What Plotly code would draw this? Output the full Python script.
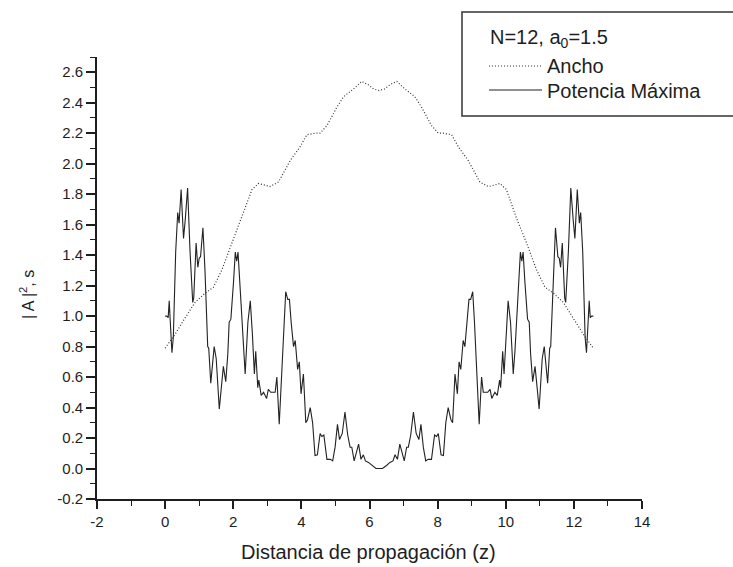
import plotly.graph_objects as go

# Potencia Máxima (solid)
z_pot = [0.00, 0.05, 0.09, 0.12, 0.15, 0.20, 0.24, 0.31, 0.37, 0.41, 0.47, 0.54, 0.59, 0.66, 0.73,
         0.81, 0.84, 0.91, 0.96, 1.00, 1.04, 1.11, 1.17, 1.25, 1.28, 1.34, 1.44, 1.50, 1.59, 1.64,
         1.71, 1.78, 1.84, 1.88, 1.93, 2.01, 2.06, 2.10, 2.14, 2.23, 2.30, 2.35, 2.43, 2.50, 2.56,
         2.62, 2.66, 2.72, 2.75, 2.82, 2.89, 2.98, 3.03, 3.10, 3.23, 3.28, 3.35, 3.43, 3.49, 3.54,
         3.60, 3.65, 3.70, 3.77, 3.82, 3.89, 3.94, 3.99, 4.06, 4.13, 4.18, 4.26, 4.33, 4.40, 4.47,
         4.55, 4.60, 4.66, 4.75, 4.85, 4.92, 4.99, 5.06, 5.12, 5.20, 5.28, 5.36, 5.43, 5.48, 5.55,
         5.68, 5.75, 5.82, 5.88, 5.97, 6.07, 6.19, 6.28,
         6.38, 6.50, 6.60, 6.69, 6.75, 6.82, 6.89, 7.02, 7.09, 7.14, 7.21, 7.29, 7.37, 7.45, 7.51,
         7.58, 7.65, 7.72, 7.82, 7.91, 7.97, 8.02, 8.10, 8.17, 8.24, 8.31, 8.39, 8.44, 8.51, 8.58,
         8.63, 8.68, 8.75, 8.80, 8.87, 8.92, 8.97, 9.03, 9.08, 9.14, 9.22, 9.29, 9.34, 9.47, 9.54,
         9.59, 9.68, 9.75, 9.82, 9.85, 9.91, 9.95, 10.01, 10.07, 10.14, 10.22, 10.27, 10.34, 10.43,
         10.47, 10.51, 10.56, 10.64, 10.69, 10.73, 10.79, 10.86, 10.93, 10.98, 11.07, 11.13, 11.23,
         11.29, 11.32, 11.40, 11.46, 11.53, 11.57, 11.61, 11.66, 11.73, 11.76, 11.84, 11.91, 11.98,
         12.03, 12.10, 12.16, 12.20, 12.26, 12.33, 12.37, 12.42, 12.45, 12.48, 12.52, 12.57]
v_pot = [1.00, 1.00, 0.99, 1.10, 0.97, 0.76, 0.86, 1.42, 1.68, 1.61, 1.83, 1.51, 1.63, 1.84, 1.43,
         1.09, 1.12, 1.48, 1.32, 1.38, 1.39, 1.58, 1.30, 0.80, 0.79, 0.56, 0.80, 0.72, 0.39, 0.51,
         0.67, 0.57, 0.75, 0.96, 0.98, 1.23, 1.42, 1.36, 1.42, 1.08, 0.77, 0.62, 0.96, 1.10, 0.89,
         0.62, 0.77, 0.53, 0.58, 0.48, 0.50, 0.46, 0.52, 0.50, 0.50, 0.60, 0.29, 0.63, 0.97, 1.16,
         1.11, 1.11, 0.96, 0.80, 0.84, 0.65, 0.70, 0.49, 0.62, 0.30, 0.32, 0.40, 0.30, 0.085, 0.09,
         0.23, 0.21, 0.22, 0.06, 0.06, 0.05, 0.14, 0.29, 0.19, 0.23, 0.37, 0.22, 0.14, 0.14, 0.05,
         0.16, 0.06, 0.09, 0.05, 0.04, 0.02, 0.00, 0.00,
         0.00, 0.02, 0.04, 0.05, 0.09, 0.06, 0.16, 0.05, 0.14, 0.14, 0.22, 0.37, 0.23, 0.19, 0.29,
         0.14, 0.05, 0.06, 0.06, 0.22, 0.21, 0.23, 0.09, 0.085, 0.30, 0.40, 0.32, 0.30, 0.62, 0.49,
         0.70, 0.65, 0.84, 0.80, 0.96, 1.11, 1.11, 1.16, 0.97, 0.63, 0.29, 0.60, 0.50, 0.50, 0.52,
         0.46, 0.50, 0.48, 0.58, 0.53, 0.77, 0.62, 0.89, 1.10, 0.96, 0.62, 0.77, 1.08, 1.42,
         1.36, 1.42, 1.23, 0.98, 0.96, 0.75, 0.57, 0.67, 0.51, 0.39, 0.72, 0.80, 0.56,
         0.79, 0.80, 1.30, 1.58, 1.39, 1.38, 1.32, 1.48, 1.12, 1.09, 1.43, 1.84, 1.63,
         1.51, 1.83, 1.61, 1.68, 1.42, 0.86, 0.76, 0.97, 1.10, 0.99, 1.00, 1.00]

# Ancho (dotted)
z_ancho = [0.00, 0.29, 0.59, 0.88, 1.17, 1.42, 1.66, 1.96, 2.25, 2.55, 2.74, 2.90, 3.08, 3.33, 3.67,
           3.96, 4.16, 4.40, 4.55, 4.75, 5.04, 5.24, 5.53, 5.77, 5.95, 6.12, 6.28,
           6.44, 6.61, 6.80, 7.04, 7.33, 7.53, 7.82, 8.02, 8.17, 8.41, 8.61, 8.90, 9.24, 9.49,
           9.67, 9.83, 10.02, 10.32, 10.61, 10.91, 11.15, 11.40, 11.69, 11.98, 12.28, 12.57]
v_ancho = [0.79, 0.88, 0.99, 1.09, 1.15, 1.19, 1.30, 1.48, 1.64, 1.83, 1.87, 1.86, 1.85, 1.88, 2.02,
           2.11, 2.19, 2.20, 2.20, 2.25, 2.37, 2.44, 2.49, 2.54, 2.52, 2.49, 2.48,
           2.49, 2.52, 2.54, 2.49, 2.44, 2.37, 2.25, 2.20, 2.20, 2.19, 2.11, 2.02, 1.88, 1.85,
           1.86, 1.87, 1.83, 1.64, 1.48, 1.30, 1.19, 1.15, 1.09, 0.99, 0.88, 0.79]

x_ticks = [-2, 0, 2, 4, 6, 8, 10, 12, 14]
x_ticktext = ["-2", "0", "2", "4", "6", "8", "10", "12", "14"]
y_ticks = [-0.2, 0.0, 0.2, 0.4, 0.6, 0.8, 1.0, 1.2, 1.4, 1.6, 1.8, 2.0, 2.2, 2.4, 2.6]
y_ticktext = ["-0.2", "0.0", "0.2", "0.4", "0.6", "0.8", "1.0", "1.2", "1.4", "1.6", "1.8",
              "2.0", "2.2", "2.4", "2.6"]

FONT = "Liberation Sans, Arial, sans-serif"
INK = "#1e1e1e"

fig = go.Figure()
fig.add_trace(go.Scatter(x=z_ancho, y=v_ancho, mode="lines",
                         line=dict(color="#333333", width=1.2, dash="1px,2px"),
                         name="Ancho", showlegend=False))
fig.add_trace(go.Scatter(x=z_pot, y=v_pot, mode="lines",
                         line=dict(color="#222222", width=1.1),
                         name="Potencia Máxima", showlegend=False))

W, H = 733, 567
L, R, T, B = 97, 642, 57, 499

def px(xp):
    return (xp - L) / (R - L)

def py(yp):
    return (B - yp) / (B - T)

fig.update_layout(
    width=W, height=H,
    margin=dict(l=L, r=W - R, t=T, b=H - B),
    paper_bgcolor="white", plot_bgcolor="white",
    font=dict(family=FONT, color=INK, size=15),
    xaxis=dict(range=[-2, 14], tickvals=x_ticks, ticktext=x_ticktext, showgrid=False, zeroline=False,
               showline=True, linecolor=INK, linewidth=1.6,
               ticks="outside", ticklen=8, tickwidth=1.6, tickcolor=INK,
               minor=dict(dtick=1, tick0=0, ticks="outside", ticklen=5, tickwidth=1.4, tickcolor=INK),
               tickfont=dict(size=15)),
    yaxis=dict(range=[-0.2, 2.7], tickvals=y_ticks, ticktext=y_ticktext, showgrid=False, zeroline=False,
               showline=True, linecolor=INK, linewidth=1.6,
               ticks="outside", ticklen=9, tickwidth=1.6, tickcolor=INK,
               minor=dict(dtick=0.1, tick0=0, ticks="outside", ticklen=5, tickwidth=1.4, tickcolor=INK),
               tickfont=dict(size=15)),
    showlegend=False,
)

# axis titles
fig.add_annotation(text="Distancia de propagación (z)", xref="paper", yref="paper",
                   x=px(368), y=py(552), showarrow=False, font=dict(size=20),
                   xanchor="center", yanchor="middle")
fig.add_annotation(text="| A |<sup>2</sup>, s", xref="paper", yref="paper",
                   x=px(27), y=py(295), showarrow=False, font=dict(size=16),
                   textangle=-90, xanchor="center", yanchor="middle")

# legend box
fig.add_shape(type="rect", xref="paper", yref="paper",
              x0=px(462), x1=px(745), y0=py(116), y1=py(12),
              line=dict(color="#333333", width=1.5), fillcolor="rgba(0,0,0,0)")
fig.add_shape(type="line", xref="paper", yref="paper",
              x0=px(489), x1=px(542), y0=py(66), y1=py(66),
              line=dict(color="#333333", width=1.2, dash="1px,2px"))
fig.add_shape(type="line", xref="paper", yref="paper",
              x0=px(489), x1=px(542), y0=py(90), y1=py(90),
              line=dict(color="#222222", width=1.1))
fig.add_annotation(text="N=12, a<sub>0</sub>=1.5", xref="paper", yref="paper",
                   x=px(488), y=py(39), showarrow=False, font=dict(size=20),
                   xanchor="left", yanchor="middle")
fig.add_annotation(text="Ancho", xref="paper", yref="paper",
                   x=px(545), y=py(66), showarrow=False, font=dict(size=20),
                   xanchor="left", yanchor="middle")
fig.add_annotation(text="Potencia Máxima", xref="paper", yref="paper",
                   x=px(545), y=py(91), showarrow=False, font=dict(size=20),
                   xanchor="left", yanchor="middle")

fig.write_html("out.html")
